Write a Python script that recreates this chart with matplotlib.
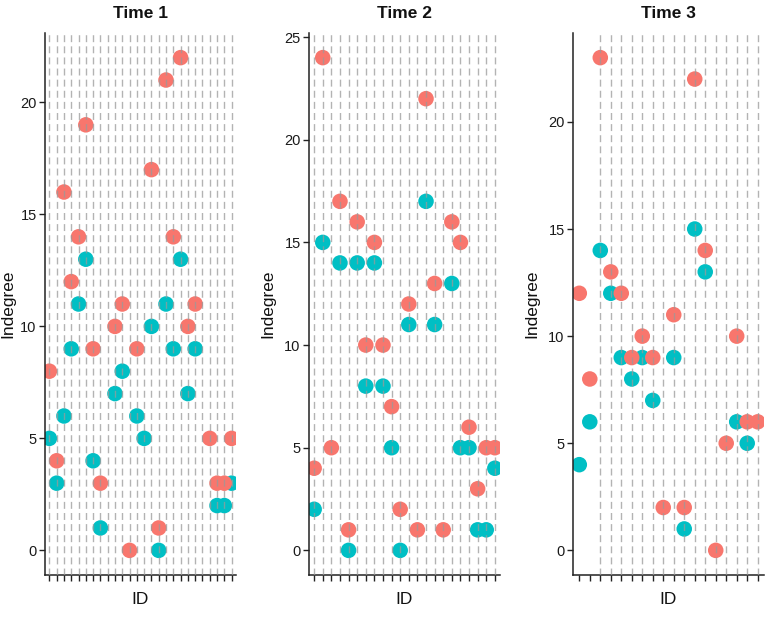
import numpy as np
import matplotlib
matplotlib.use("Agg")
import matplotlib.pyplot as plt

plt.rcParams['font.family'] = ['Liberation Sans', 'DejaVu Sans']
plt.rcParams['lines.scale_dashes'] = False

nan = np.nan
titles = ["Time 1", "Time 2", "Time 3"]

# Time 1 (26 IDs)
t1_red = [8, 4, 16, 12, 14, 19, 9, 3, nan, 10, 11, 0, 9, nan, 17, 1, 21, 14, 22, 10, 11, nan, 5, 3, 3, 5]
t1_teal = [5, 3, 6, 9, 11, 13, 4, 1, nan, 7, 8, nan, 6, 5, 10, 0, 11, 9, 13, 7, 9, nan, nan, 2, 2, 3]
t1_guides = list(range(26))
t1_yticks = [0, 5, 10, 15, 20]

# Time 2 (22 IDs)
t2_red = [4, 24, 5, 17, 1, 16, 10, 15, 10, 7, 2, 12, 1, 22, 13, 1, 16, 15, 6, 3, 5, 5]
t2_teal = [2, 15, nan, 14, 0, 14, 8, 14, 8, 5, 0, 11, nan, 17, 11, nan, 13, 5, 5, 1, 1, 4]
t2_guides = list(range(22))
t2_yticks = [0, 5, 10, 15, 20, 25]

# Time 3 (18 IDs)
t3_red = [12, 8, 23, 13, 12, 9, 10, 9, 2, 11, 2, 22, 14, 0, 5, 10, 6, 6]
t3_teal = [4, 6, 14, 12, 9, 8, 9, 7, nan, 9, 1, 15, 13, nan, nan, 6, 5, nan]
t3_guides = list(range(2, 18))
t3_yticks = [0, 5, 10, 15, 20]

panels = [
    (t1_red, t1_teal, t1_guides, t1_yticks),
    (t2_red, t2_teal, t2_guides, t2_yticks),
    (t3_red, t3_teal, t3_guides, t3_yticks),
]

RED = "#F8766D"
TEAL = "#00BFC4"

W, H = 768, 618
fig = plt.figure(figsize=(W / 100, H / 100), dpi=100)

lefts = [45, 309, 573]
pw = 191
top_px, bot_px = 33, 575
ylab_off = [37, 41, 41]

for i, (red, teal, guides, yticks) in enumerate(panels):
    ax = fig.add_axes([lefts[i] / W, 1 - bot_px / H, pw / W, (bot_px - top_px) / H])
    n = len(red)
    ids = np.arange(n)
    red = np.array(red, dtype=float)
    teal = np.array(teal, dtype=float)
    ax.scatter(ids, teal, s=125, color=TEAL, edgecolors='none', zorder=2)
    ax.scatter(ids, red, s=125, color=RED, edgecolors='none', zorder=2.1)
    for g in guides:
        ax.axvline(g, color='#9a9a9a', lw=1.0, alpha=0.75, dashes=(5, 3), zorder=3)
    vmax = np.nanmax(np.concatenate([red, teal]))
    vmin = np.nanmin(np.concatenate([red, teal]))
    rng = vmax - vmin
    ax.set_ylim(vmin - 0.05 * rng, vmax + 0.05 * rng)
    ax.set_xlim(-0.6, n - 1 + 0.6)
    ax.set_xticks(ids)
    ax.set_xticklabels([])
    ax.set_yticks(yticks)
    ax.set_yticklabels([str(v) for v in yticks], fontsize=10.5, color='#1a1a1a')
    for s in ['top', 'right']:
        ax.spines[s].set_visible(False)
    for s in ['left', 'bottom']:
        ax.spines[s].set_linewidth(1.1)
        ax.spines[s].set_color('#222222')
    ax.tick_params(axis='both', length=4, width=1.0, color='#222222', pad=2)
    ax.set_xlabel("ID", fontsize=12.5, color='#111111')
    ax.xaxis.set_label_coords(0.5, -0.045)
    ax.xaxis.label.set_va('center')
    ax.set_ylabel("Indegree", fontsize=12.5, color='#111111')
    ax.yaxis.set_label_coords(-ylab_off[i] / pw, 0.5)
    ax.yaxis.label.set_va('center')
    ax.text(0.5, 1 + 19 / (bot_px - top_px), titles[i], transform=ax.transAxes,
            ha='center', va='center', fontsize=12.5, fontweight='bold', color='#111111')
    ax.set_facecolor('white')

fig.savefig("out.png", dpi=100, facecolor='white')
